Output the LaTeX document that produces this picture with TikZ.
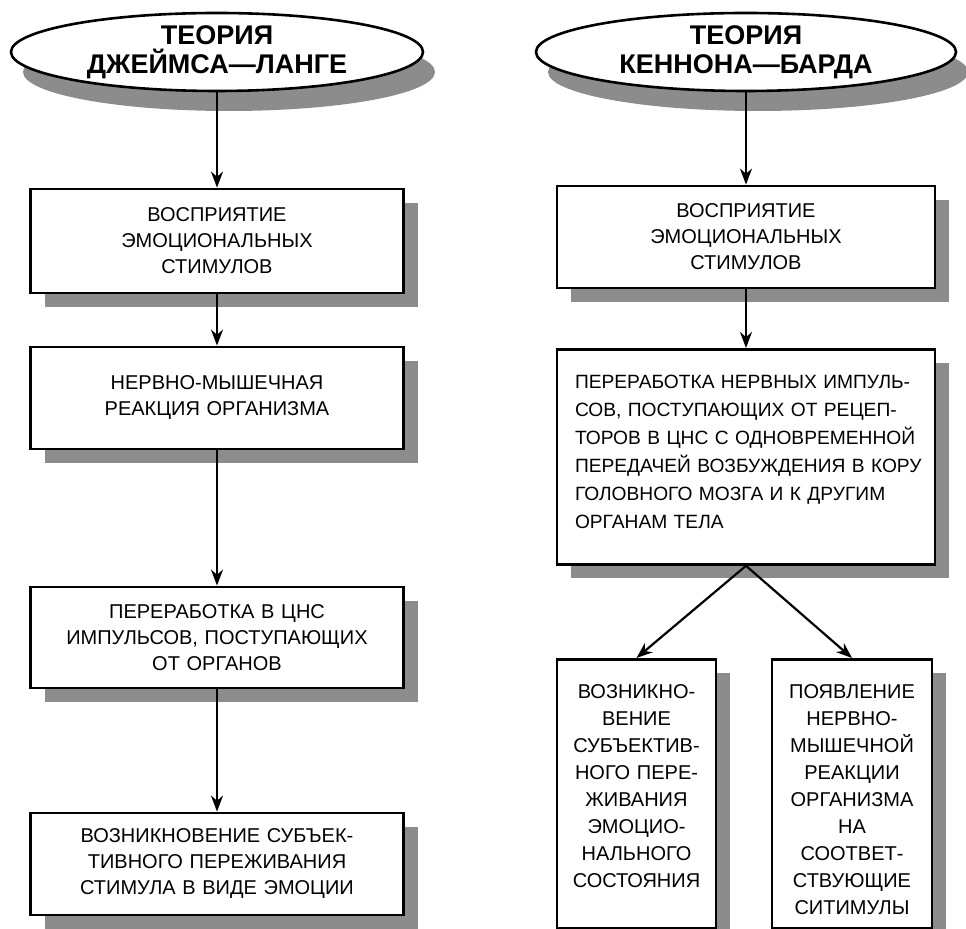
\documentclass[tikz,border=0pt]{standalone}
\usepackage{fontspec}
\setmainfont{Liberation Sans}
\usetikzlibrary{shadows,shapes.geometric,arrows.meta}
\newcommand{\jline}[1]{\makebox[\linewidth][s]{#1}\\}
\begin{document}
\begin{tikzpicture}[x=0.5pt,y=-0.5pt,
		theory/.style={ellipse,draw,line width=1.3pt,fill=white,minimum height=39pt,inner sep=0pt,align=center,font=\fontsize{13.5}{14.5}\selectfont\bfseries,drop shadow={shadow xshift=6pt,shadow yshift=-10pt,fill=black!45,opacity=1}},
		stagebox/.style={rectangle,draw,line width=1.4pt,fill=white,inner sep=0pt,align=center,font=\fontsize{10}{13}\selectfont,drop shadow={shadow xshift=7pt,shadow yshift=-7pt,fill=black!45,opacity=1}},
		flow/.style={line width=1.1pt,-{Stealth[length=8pt,width=6pt]}}]
			\useasboundingbox (0,0) rectangle (966,929);
			\clip (0,0) rectangle (966,929);
			\node[theory,minimum width=206pt] (jl) at (217,52) {ТЕОРИЯ\\ДЖЕЙМСА—ЛАНГЕ};
			\node[stagebox,text width=186.5pt,minimum height=52pt] (jl1) at (217,241) {ВОСПРИЯТИЕ\\ЭМОЦИОНАЛЬНЫХ\\СТИМУЛОВ};
			\node[stagebox,text width=186.5pt,minimum height=51pt] (jl2) at (217,398) {НЕРВНО-МЫШЕЧНАЯ\\РЕАКЦИЯ ОРГАНИЗМА};
			\node[stagebox,text width=186.5pt,minimum height=50.5pt] (jl3) at (217,637.5) {ПЕРЕРАБОТКА В ЦНС\\ИМПУЛЬСОВ, ПОСТУПАЮЩИХ\\ОТ ОРГАНОВ};
			\node[stagebox,text width=186.5pt,minimum height=51pt] (jl4) at (217,864) {ВОЗНИКНОВЕНИЕ СУБЪЕК-\\ТИВНОГО ПЕРЕЖИВАНИЯ\\СТИМУЛА В ВИДЕ ЭМОЦИИ};
			\node[theory,minimum width=210pt] (kb) at (746,52) {ТЕОРИЯ\\КЕННОНА—БАРДА};
			\node[stagebox,text width=189pt,minimum height=51pt] (kb1) at (746,237) {ВОСПРИЯТИЕ\\ЭМОЦИОНАЛЬНЫХ\\СТИМУЛОВ};
			\node[stagebox,anchor=north,align=left,text width=171pt,inner xsep=9pt,font=\fontsize{9.6}{14}\selectfont,text height=19.4pt,text depth=88.1pt] (kb2) at (746,348) {\jline{ПЕРЕРАБОТКА НЕРВНЫХ ИМПУЛЬ-}\jline{СОВ, ПОСТУПАЮЩИХ ОТ РЕЦЕП-}\jline{ТОРОВ В ЦНС С ОДНОВРЕМЕННОЙ}\jline{ПЕРЕДАЧЕЙ ВОЗБУЖДЕНИЯ В КОРУ}\jline{ГОЛОВНОГО МОЗГА И К ДРУГИМ}ОРГАНАМ ТЕЛА};
			\node[stagebox,anchor=north,text width=79.5pt,font=\fontsize{10}{13.5}\selectfont,text height=19.7pt,text depth=114.8pt] (kb3) at (636.5,658) {ВОЗНИКНО-\\ВЕНИЕ\\СУБЪЕКТИВ-\\НОГО ПЕРЕ-\\ЖИВАНИЯ\\ЭМОЦИО-\\НАЛЬНОГО\\СОСТОЯНИЯ};
			\node[stagebox,anchor=north,text width=80pt,font=\fontsize{10}{13.5}\selectfont,text height=19.7pt,text depth=114.8pt] (kb4) at (852,658) {ПОЯВЛЕНИЕ\\НЕРВНО-\\МЫШЕЧНОЙ\\РЕАКЦИИ\\ОРГАНИЗМА\\НА\\СООТВЕТ-\\СТВУЮЩИЕ\\СИТИМУЛЫ};
			\draw[flow] (jl) -- (jl1);
			\draw[flow] (jl1) -- (jl2);
			\draw[flow] (jl2) -- (jl3);
			\draw[flow] (jl3) -- (jl4);
			\draw[flow] (kb) -- (kb1);
			\draw[flow] (kb1) -- (kb2);
			\draw[flow] (kb2.south) -- (kb3.north);
			\draw[flow] (kb2.south) -- (kb4.north);
		\end{tikzpicture}
\end{document}
